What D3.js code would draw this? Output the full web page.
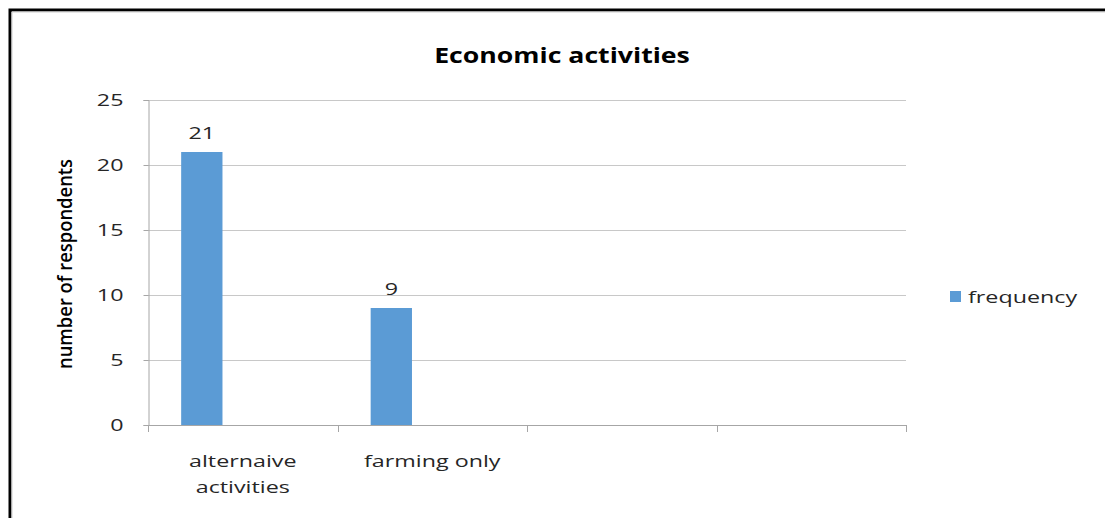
<!DOCTYPE html>
<html>
<head>
<meta charset="utf-8">
<script src="https://cdn.jsdelivr.net/npm/d3@7"></script>
<style>
  body { margin: 0; background: #fff; }
  text { font-family: "Open Sans", sans-serif; fill: #262626; }
</style>
</head>
<body>
<script>
var w = 1105
var h = 518

// data
var categories = ["alternaive activities", "farming only", "", " "]
var frequency = [21, 9, null, null]
var seriesName = "frequency"
var yTicks = [0, 5, 10, 15, 20, 25]

var margin = {left: 148, right: 1105 - 906, top: 100, bottom: 518 - 425}
var sx = 1.37   // the original text is drawn wide

var svg = d3.select("body")
  .append("svg")
  .attr("width", w)
  .attr("height", h)

// places a text at (x,y) stretched horizontally
function wideText(parent, x, y, s) {
  return parent.append("text")
    .attr("transform", "translate(" + x + "," + y + ") scale(" + (s || sx) + ",1)")
}

// outer frame
svg.append("path")
  .attr("d", "M10," + h + "V10H" + w)
  .attr("fill", "none")
  .attr("stroke", "#000")
  .attr("stroke-width", 3)
svg.append("path")
  .attr("d", "M12," + h + "V12H" + w)
  .attr("fill", "none")
  .attr("stroke", "#d0d0d0")
  .attr("stroke-width", 1)

var x = d3.scaleBand()
  .domain(categories)
  .range([margin.left, w - margin.right])
  .padding(0)

var y = d3.scaleLinear()
  .domain([0, 25])
  .range([h - margin.bottom, margin.top])

// gridlines
svg.append("g")
  .selectAll("line")
  .data(yTicks.filter(d => d > 0))
  .enter().append("line")
  .attr("x1", margin.left)
  .attr("x2", w - margin.right)
  .attr("y1", d => Math.round(y(d)) + 0.5)
  .attr("y2", d => Math.round(y(d)) + 0.5)
  .attr("stroke", "#c8c8c8")

// y axis
var yAxis = svg.append("g")
  .attr("transform", "translate(" + (margin.left + 0.5) + ",0)")
  .call(d3.axisLeft(y).tickValues(yTicks).tickSize(5).tickPadding(20))
yAxis.select(".domain").attr("stroke", "#a6a6a6")
yAxis.selectAll(".tick line").attr("stroke", "#a6a6a6")
yAxis.selectAll(".tick text")
  .attr("x", 0)
  .attr("transform", "translate(-25,0) scale(" + sx + ",1)")
  .style("font-family", "'Open Sans', sans-serif")
  .style("font-size", "17px")
  .attr("fill", "#262626")

// x axis
var xAxis = svg.append("g")
  .attr("transform", "translate(0," + (y(0) + 0.5) + ")")
  .call(d3.axisBottom(x).tickSize(0).tickFormat(""))
xAxis.select(".domain").attr("stroke", "#a6a6a6").attr("d", "M" + margin.left + ",0H" + (w - margin.right))
xAxis.selectAll(".tick").remove()

var edges = categories.map(c => x(c)).concat([x.range()[1]])
svg.append("g")
  .selectAll("line")
  .data(edges)
  .enter().append("line")
  .attr("x1", d => Math.round(d) + 0.5)
  .attr("x2", d => Math.round(d) + 0.5)
  .attr("y1", y(0))
  .attr("y2", y(0) + 7)
  .attr("stroke", "#a6a6a6")

// category labels
var labelLines = {"alternaive activities": ["alternaive", "activities"], "farming only": ["farming only"]}
categories.forEach(function(c) {
  var lines = labelLines[c] || []
  lines.forEach(function(l, i) {
    wideText(svg, x(c) + x.bandwidth() / 2, 467 + i * 26)
      .attr("text-anchor", "middle")
      .style("font-size", "17px")
      .text(l)
  })
})

// bars
var barOff = 0.175, barW = 0.218
var bars = categories.map((c, i) => ({cat: c, v: frequency[i]})).filter(d => d.v != null)

svg.append("g")
  .selectAll("rect")
  .data(bars)
  .enter().append("rect")
  .attr("x", d => x(d.cat) + x.bandwidth() * barOff)
  .attr("width", x.bandwidth() * barW)
  .attr("y", d => y(d.v))
  .attr("height", d => y(0) - y(d.v))
  .attr("fill", "#5b9bd5")

bars.forEach(function(d) {
  wideText(svg, x(d.cat) + x.bandwidth() * (barOff + barW / 2), y(d.v) - 13)
    .attr("text-anchor", "middle")
    .style("font-size", "17px")
    .text(d.v)
})

// title
wideText(svg, 562, 63, 1.27)
  .attr("text-anchor", "middle")
  .style("font-size", "21px")
  .style("font-weight", "bold")
  .style("fill", "#000")
  .text("Economic activities")

// y axis title
svg.append("text")
  .attr("transform", "translate(72,264) rotate(-90) scale(0.92,1)")
  .attr("text-anchor", "middle")
  .style("font-size", "20px")
  .style("font-weight", "600")
  .style("fill", "#000")
  .text("number of respondents")

// legend
var lg = svg.append("g").attr("transform", "translate(950,291)")
lg.append("rect").attr("width", 11).attr("height", 11).attr("fill", "#5b9bd5")
wideText(lg, 18, 12)
  .style("font-size", "17px")
  .text(seriesName)
</script>
</body>
</html>
